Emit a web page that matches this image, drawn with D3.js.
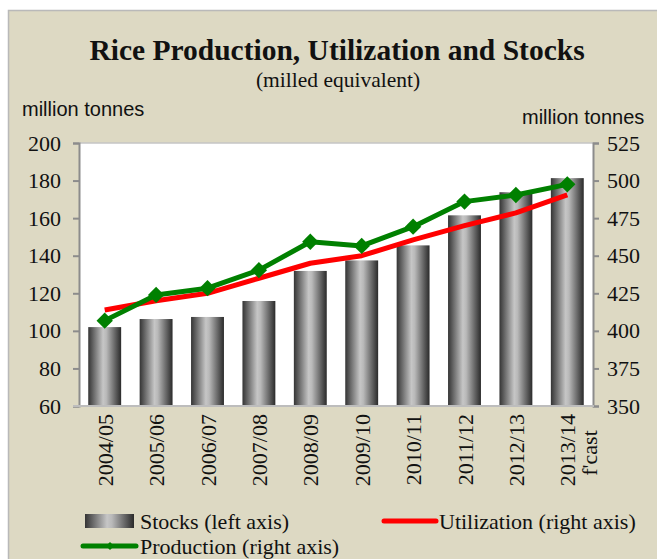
<!DOCTYPE html>
<html><head><meta charset="utf-8">
<script src="https://cdn.jsdelivr.net/npm/d3@7"></script>
<style>html,body{margin:0;padding:0;background:#fff;}svg{display:block;}</style>
</head><body>
<svg id="c" width="657" height="559"></svg>
<script>
const categories = ["2004/05","2005/06","2006/07","2007/08","2008/09","2009/10","2010/11","2011/12","2012/13","2013/14"];
const stocks = [102, 106.3, 107.4, 115.9, 131.9, 137.5, 145.5, 161.5, 173.8, 181.3];
const utilization = [413.9, 420.0, 425.0, 435.0, 445.0, 450.0, 460.5, 470.0, 478.5, 490.5];
const production = [406.8, 423.9, 428.4, 440.4, 459.3, 456.5, 469.3, 486.0, 490.4, 497.5];
const leftTicks = [60, 80, 100, 120, 140, 160, 180, 200];
const rightTicks = [350, 375, 400, 425, 450, 475, 500, 525];

const svg = d3.select("#c");
const W = 657, H = 559;
const m = {l: 79, r: 593, t: 143, b: 406};
const serif = "'Liberation Serif','Times New Roman',serif";
const sans = "'Liberation Sans',Arial,sans-serif";

// background frame
svg.append("rect").attr("x", 8.5).attr("y", 10.5).attr("width", W).attr("height", H)
  .attr("fill", "#DDD9C3").attr("stroke", "#b9b9b9").attr("stroke-width", 1.5);

const defs = svg.append("defs");
const g = defs.append("linearGradient").attr("id", "barg").attr("x1", "0%").attr("x2", "100%").attr("y1", "0").attr("y2", "0");
[[0, "#343434"], [0.45, "#c6c6c6"], [0.55, "#b9b9b9"], [1, "#2a2a2a"]].forEach(([o, c]) =>
  g.append("stop").attr("offset", o).attr("stop-color", c));

// plot area
svg.append("rect").attr("x", m.l).attr("y", m.t).attr("width", m.r - m.l).attr("height", m.b - m.t)
  .attr("fill", "#fff");
svg.append("line").attr("x1", m.l).attr("x2", m.r).attr("y1", m.t).attr("y2", m.t)
  .attr("stroke", "#c4c4c4").attr("stroke-width", 1.5);

const x = d3.scaleBand().domain(categories).range([m.l, m.r]).paddingInner(0.36).paddingOuter(0.18);
const yL = d3.scaleLinear().domain([60, 200]).range([m.b, m.t]);
const yR = d3.scaleLinear().domain([350, 525]).range([m.b, m.t]);

// bars
svg.append("g").selectAll("rect").data(categories).join("rect")
  .attr("x", d => x(d)).attr("width", x.bandwidth())
  .attr("y", (d, i) => yL(stocks[i])).attr("height", (d, i) => yL(60) - yL(stocks[i]))
  .attr("fill", "url(#barg)");

// axes
const axL = svg.append("g").attr("transform", `translate(${m.l},0)`)
  .call(d3.axisLeft(yL).tickValues(leftTicks).tickSize(6).tickPadding(12));
const axR = svg.append("g").attr("transform", `translate(${m.r},0)`)
  .call(d3.axisRight(yR).tickValues(rightTicks).tickSize(6).tickPadding(8));
[axL, axR].forEach(a => {
  a.select(".domain").attr("stroke", "#8c8c8c").attr("stroke-width", 2);
  a.selectAll(".tick line").attr("stroke", "#8c8c8c").attr("stroke-width", 2);
  a.selectAll(".tick text").attr("font-family", serif).attr("font-size", 22).attr("fill", "#111");
});
svg.append("line").attr("x1", m.l - 6).attr("x2", m.r + 1).attr("y1", m.b).attr("y2", m.b)
  .attr("stroke", "#bdbdbd").attr("stroke-width", 2);

// x labels
const cx = d => x(d) + x.bandwidth() / 2;
const xl = svg.append("g");
categories.forEach((c, i) => {
  const tx = cx(c) + 8;
  xl.append("text").attr("transform", `translate(${tx},${m.b + 8}) rotate(-90)`)
    .attr("text-anchor", "end").attr("font-family", serif).attr("font-size", 22).attr("fill", "#111").text(c);
  if (i === categories.length - 1) {
    xl.append("text").attr("transform", `translate(${tx + 22},${m.b + 8 + 39}) rotate(-90)`)
      .attr("text-anchor", "middle").attr("font-family", serif).attr("font-size", 22).attr("fill", "#111").text("f'cast");
  }
});

// lines
const line = d3.line().x((d, i) => cx(categories[i])).y(d => yR(d));
svg.append("path").datum(utilization).attr("d", line).attr("fill", "none")
  .attr("stroke", "#ff0000").attr("stroke-width", 5).attr("stroke-linejoin", "round");
svg.append("path").datum(production).attr("d", line).attr("fill", "none")
  .attr("stroke", "#008000").attr("stroke-width", 5).attr("stroke-linejoin", "round");
svg.append("g").selectAll("path").data(production).join("path")
  .attr("d", d3.symbol(d3.symbolDiamond2, 170))
  .attr("transform", (d, i) => `translate(${cx(categories[i])},${yR(d)})`)
  .attr("fill", "#008000");

// titles
svg.append("text").attr("x", 337).attr("y", 60).attr("text-anchor", "middle")
  .attr("font-family", serif).attr("font-weight", "bold").attr("font-size", 29.5).attr("fill", "#111")
  .text("Rice Production, Utilization and Stocks");
svg.append("text").attr("x", 338).attr("y", 87).attr("text-anchor", "middle")
  .attr("font-family", serif).attr("font-size", 21.5).attr("fill", "#111").text("(milled equivalent)");
svg.append("text").attr("x", 22).attr("y", 116).attr("font-family", sans).attr("font-size", 20)
  .attr("fill", "#111").text("million tonnes");
svg.append("text").attr("x", 522).attr("y", 124).attr("font-family", sans)
  .attr("font-size", 20).attr("fill", "#111").text("million tonnes");

// legend
const lg = svg.append("g").attr("font-family", serif).attr("font-size", 22).attr("fill", "#111");
lg.append("rect").attr("x", 85).attr("y", 514).attr("width", 49).attr("height", 14).attr("fill", "url(#barg)");
lg.append("text").attr("x", 140).attr("y", 529).text("Stocks (left axis)");
lg.append("line").attr("x1", 384).attr("x2", 436).attr("y1", 521).attr("y2", 521)
  .attr("stroke", "#ff0000").attr("stroke-width", 5).attr("stroke-linecap", "round");
lg.append("text").attr("x", 439).attr("y", 529).text("Utilization (right axis)");
lg.append("line").attr("x1", 83).attr("x2", 136).attr("y1", 546).attr("y2", 546)
  .attr("stroke", "#008000").attr("stroke-width", 5).attr("stroke-linecap", "round");
lg.append("path").attr("d", d3.symbol(d3.symbolDiamond2, 40)).attr("transform", "translate(110,546)").attr("fill", "#008000");
lg.append("text").attr("x", 140).attr("y", 554).text("Production (right axis)");
</script>
</body></html>
